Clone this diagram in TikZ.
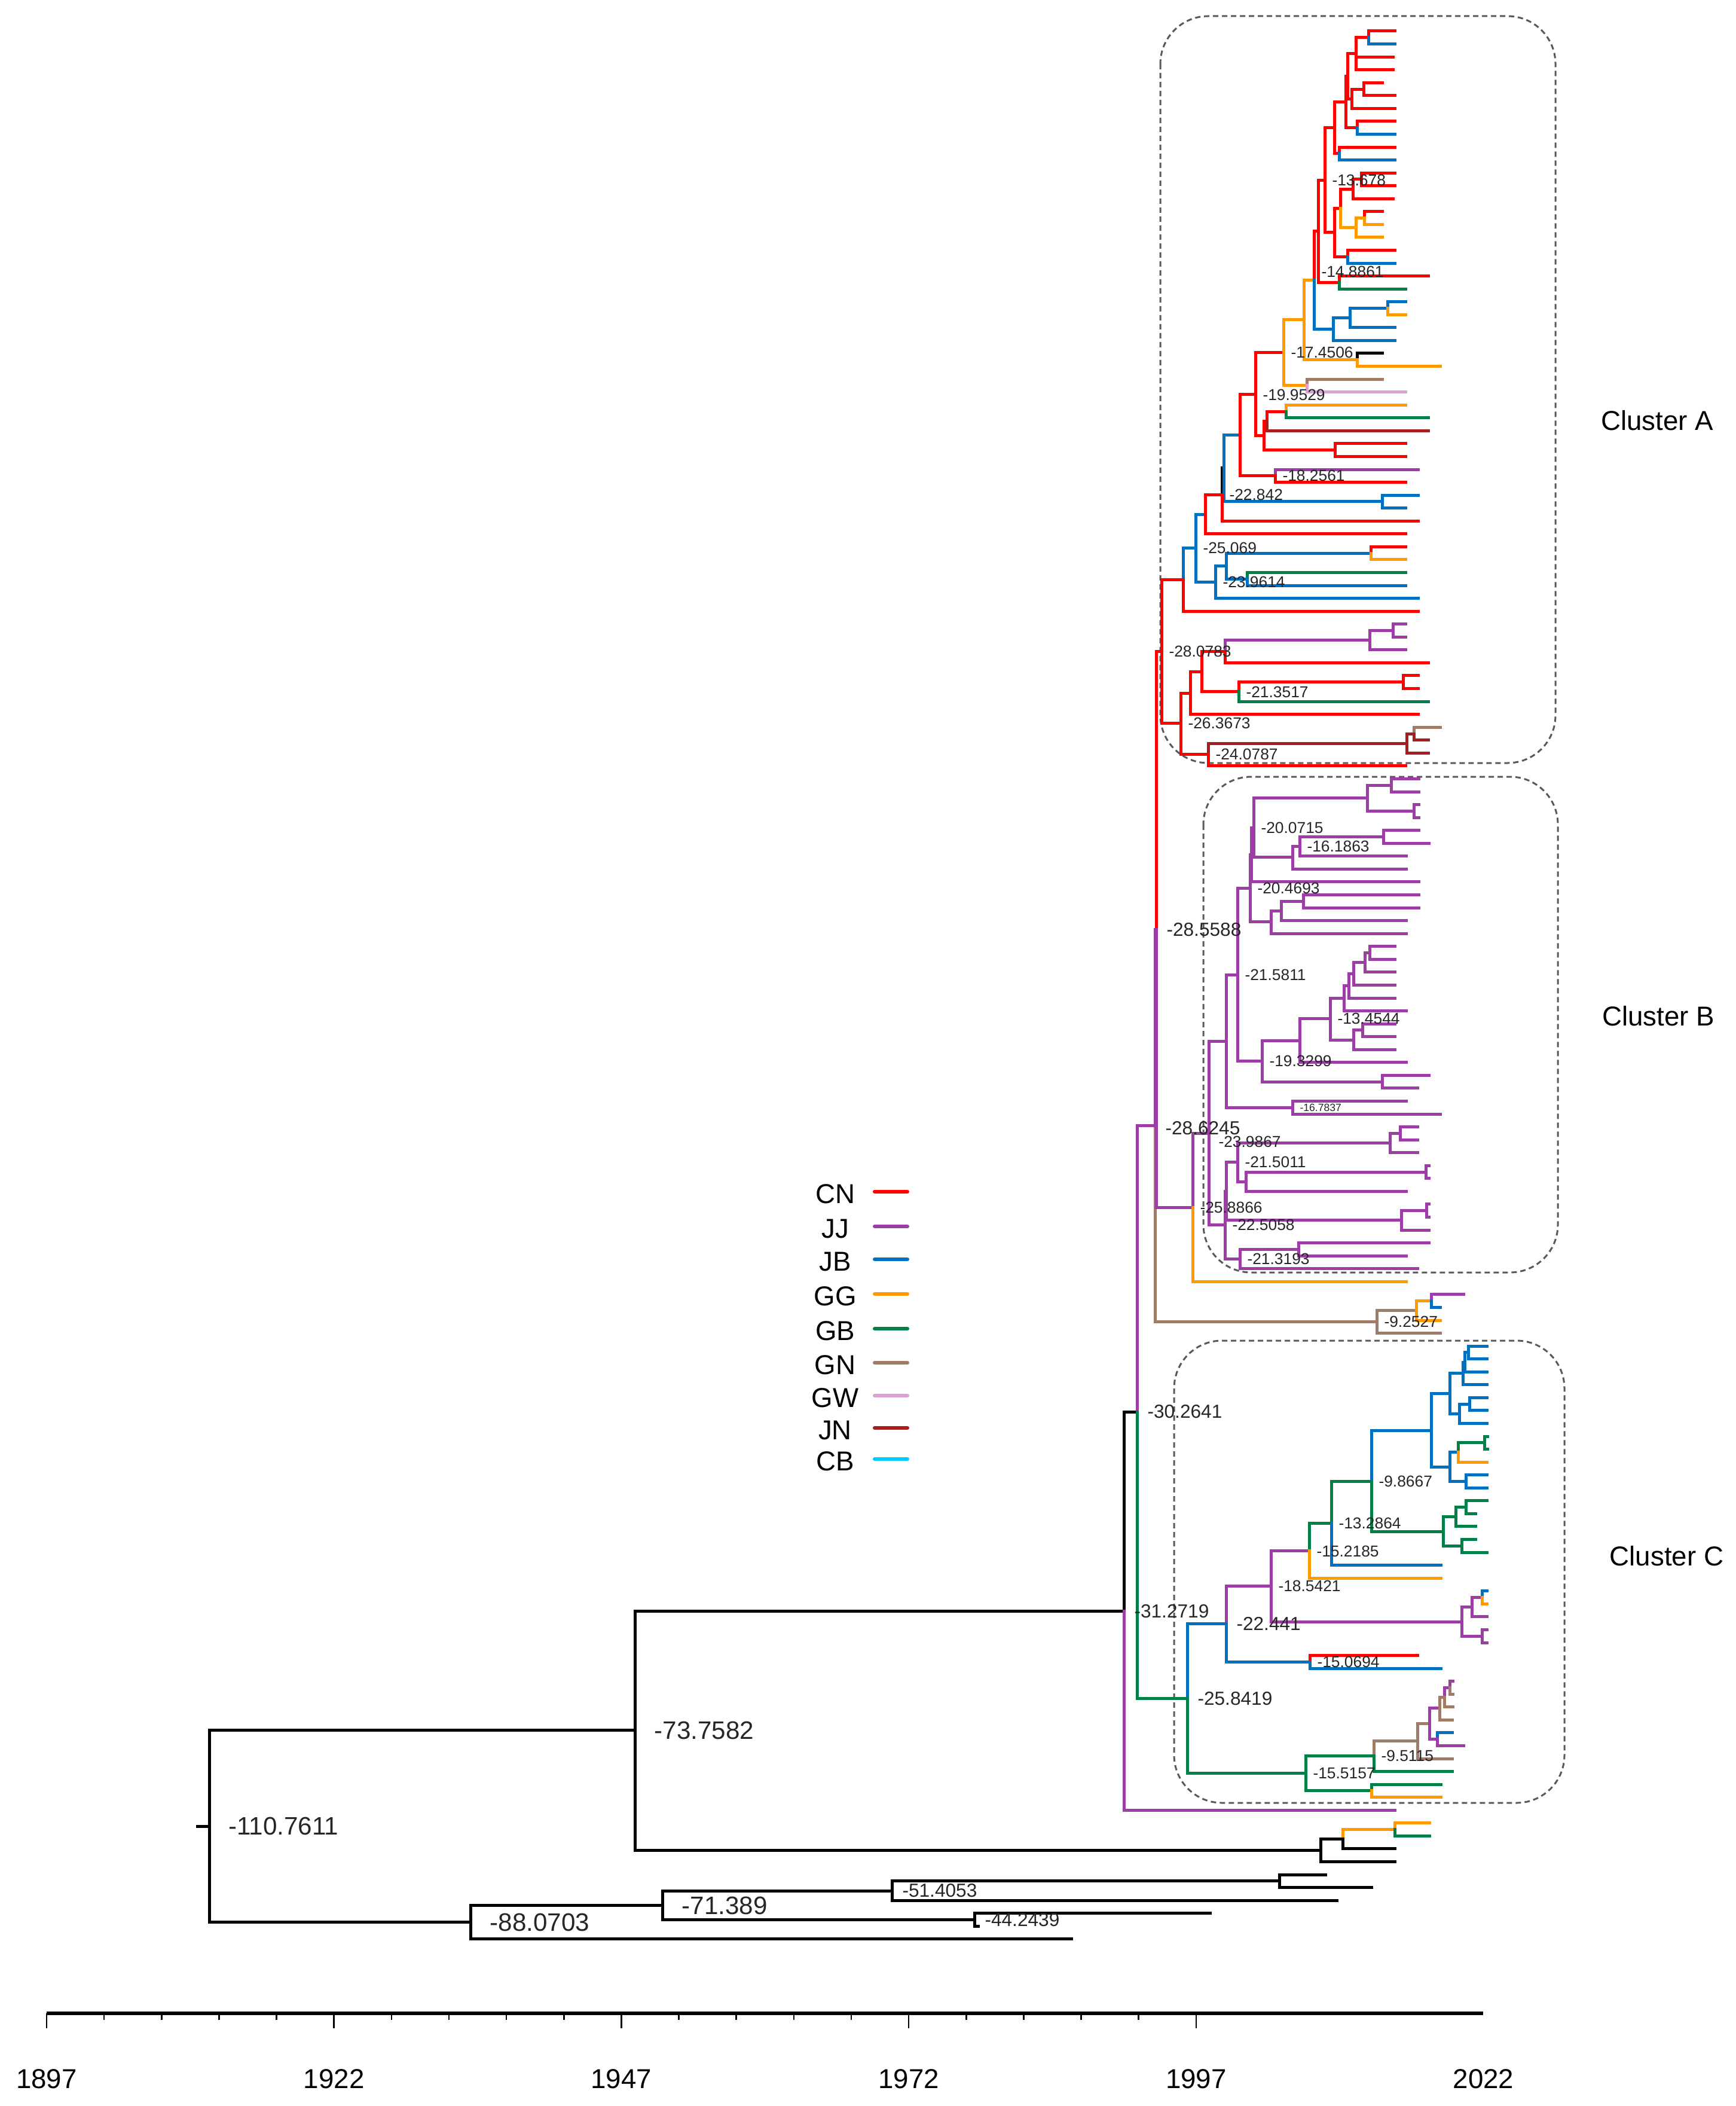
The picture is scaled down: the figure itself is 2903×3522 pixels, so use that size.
\documentclass[tikz,border=0pt]{standalone}
\usepackage{fontspec}
\setmainfont{Liberation Sans}
\definecolor{CN}{RGB}{255,0,0}
\definecolor{JJ}{RGB}{156,62,166}
\definecolor{JB}{RGB}{0,112,192}
\definecolor{GG}{RGB}{255,153,0}
\definecolor{GB}{RGB}{0,128,70}
\definecolor{GN}{RGB}{160,124,104}
\definecolor{GW}{RGB}{222,160,210}
\definecolor{JN}{RGB}{168,30,30}
\definecolor{CB}{RGB}{0,204,255}

\begin{document}
\begin{tikzpicture}[x=0.1mm, y=-0.1mm,
  lbig/.style={anchor=west, inner sep=0pt, xshift=3mm, text=black!85, font=\fontsize{12}{14}\selectfont},
  lmid/.style={anchor=west, inner sep=0pt, xshift=1.5mm, text=black!85, font=\fontsize{9}{11}\selectfont},
  lsml/.style={anchor=west, inner sep=0pt, xshift=1mm, text=black!85, font=\fontsize{7.5}{9}\selectfont},
  ltiny/.style={anchor=west, inner sep=0pt, xshift=1mm, text=black!85, font=\fontsize{5}{6}\selectfont},
  clbox/.style={draw=black!65, line width=0.3mm, dash pattern=on 0.9mm off 0.6mm, rounded corners=8mm},
  bigtxt/.style={font=\fontsize{13}{15}\selectfont},
  legline/.style={line width=0.6mm, line cap=round}]
\useasboundingbox (0,0) rectangle (2903,3522);

\draw[clbox] (1941,27) rectangle (2602,1276);
\draw[clbox] (2013,1299) rectangle (2606,2128);
\draw[clbox] (1964,2242) rectangle (2617,3015);
\node[bigtxt] (clA) at (2772,703) {Cluster A};
\node[bigtxt] (clB) at (2774,1699) {Cluster B};
\node[bigtxt] (clC) at (2788,2602) {Cluster C};

\foreach \nm/\yy in {CN/1993,JJ/2051,JB/2106,GG/2164,GB/2222,GN/2279,GW/2334,JN/2388,CB/2440}{
  \node[bigtxt] (lg\nm) at (1397,\yy+4) {\nm};
  \draw[legline,\nm] (1463,\yy) -- (1518,\yy);
}

\draw[line width=0.6mm] (78,3367) -- (2481,3367);
\foreach \k in {0,...,20}
  \draw[line width=0.25mm] ({78+96.14*\k},3367) -- ++(0,11);
\foreach \k in {0,...,4}
  \draw[line width=0.25mm] ({78+480.7*\k},3367) -- ++(0,25);
\foreach \yr [count=\i from 0] in {1897,1922,1947,1972,1997,2022}
  \node[bigtxt] (ax\yr) at ({78+480.7*\i},3477) {\yr};

\begin{scope}[y=-2.156mm, yshift=-5.2mm, line width=0.5mm, line cap=rect]
\coordinate (r0) at (350,139.25);
\coordinate (r0s) at (330,139.25);
\draw (r0s) -- (r0);
\foreach \pa/\na/\xx/\yy/\col in {
  r0/m73/1062/131.8/black, m73/m31/1880/122.55/black, m31/m30/1902/107.1/black,
  m30/s2/1932/84.9/JJ, s2/p3/2303/100.1/GN, p3/p2/2369/99.25/GN, p2/p1/2394/98.5/GG,
  p1/l98/2448/98/JJ, p1/l99/2409/99/JB, p2/l100/2409/100/GG, p3/l101/2409/101/GN,
  s2/s1/1934/69.7/JJ, s1/k1/1943/48.1/CN, s1/n39/1995/91.25/JJ,
  m30/t1/1986/129.35/GB, m31/l138/2333/138/JJ,
  m73/z3/2209/141.1/black, z3/z2/2246/140.25/black, z2/z1/2333/139.5/GG,
  z1/l139/2391/139/GG, z1/l140/2391/140/GB, z2/l141/2333/141/black, z3/l142/2333/142/black,
  r0/q88/787/146.7/black, q88/q71/1108/145.4/black, q71/q51/1492/144.25/black,
  q51/z4/2140/143.5/black, z4/l143/2217/143/black, z4/l144/2294/144/black,
  q51/l145/2236/145/black, q71/q44/1630/146.5/black, q44/l146/2024/146/black,
  q44/l147/1636/147/black, q88/l148/1792/148/black}{
  \coordinate (\na) at (\xx,\yy);
  \draw[\col] (\pa) |- (\na);
}
\foreach \pa/\na/\xx/\yy/\col in {
  k1/h6/1979/42.55/CN, h6/h5/2000/40.1/JB, h5/g4/2016/37.5/JB, g4/g3/2044/35.95/CN,
  g3/g2/2047/33.9/black, g2/f7/2074/31.35/JB, f7/f5/2100/28.2/CN, f5/e4/2147/24.95/CN,
  e4/e2/2181/22.4/GG, e2/c2/2198/19.3/GG, c2/c1/2205/15.53/CN, c1/a9/2216/11.56/CN,
  a9/a8/2232/7.5/CN, a8/a6/2251/5.5/CN, a6/a6p/2254/3.5/CN, a6p/a2/2268/1.75/CN,
  a2/a1/2289/0.5/CN, a1/l0/2333/0/CN, a1/l1/2333/1/JB, a2/l2/2330/2/CN, a2/l3/2330/3/CN,
  a6p/a4/2261/5.25/CN, a4/a3/2281/4.5/CN, a3/l4/2312/4/CN, a3/l5/2333/5/CN, a4/l6/2333/6/CN,
  a6/a5/2270/7.5/CN, a5/l7/2333/7/CN, a5/l8/2333/8/JB,
  a8/a7/2240/9.5/CN, a7/l9/2333/9/CN, a7/l10/2333/10/JB,
  a9/b7/2232/15.6/CN, b7/b5/2242/13.75/CN, b5/b2/2263/12.25/CN, b2/b1/2277/11.5/CN,
  b1/l11/2333/11/CN, b1/l12/2333/12/CN, b2/l13/2330/13/CN,
  b5/b4/2268/15.25/GG, b4/b3/2282/14.5/GG, b3/l14/2312/14/CN, b3/l15/2312/15/GG, b4/l16/2312/16/GG,
  b7/b6/2254/17.5/CN, b6/l17/2333/17/CN, b6/l18/2333/18/JB,
  c1/b8/2240/19.5/CN, b8/l19/2389/19/CN, b8/l20/2351/20/GB,
  c2/d3/2230/23.1/JB, d3/d2/2258/22.25/JB, d2/d1/2321/21.5/JB, d1/l21/2351/21/JB,
  d1/l22/2351/22/GG, d2/l23/2333/23/JB, d3/l24/2333/24/JB,
  e2/e1/2270/25.5/GG, e1/l25/2312/25/black, e1/l26/2409/26/GG,
  e4/e3/2186/27.5/GG, e3/l27/2312/27/GN, e3/l28/2351/28/GW,
  f5/f4/2114/31.4/CN, f4/f3/2119/30.25/CN, f3/f1/2151/29.5/CN, f1/l29/2351/29/GG,
  f1/l30/2389/30/GB, f3/l31/2389/31/JN, f4/f2/2233/32.5/CN, f2/l32/2351/32/CN, f2/l33/2351/33/CN,
  f7/f6/2133/34.5/CN, f6/l34/2372/34/JJ, f6/l35/2351/35/CN,
  g2/g1/2312/36.5/JB, g1/l36/2372/36/JB, g1/l37/2351/37/JB, g3/l38/2372/38/CN, g4/l39/2351/39/CN,
  h5/h4/2033/42.75/JB, h4/h3/2051/41.5/JB, h3/h1/2293/40.5/JB, h1/l40/2351/40/CN,
  h1/l41/2351/41/GG, h3/h2/2086/42.5/JB, h2/l42/2351/42/GB, h2/l43/2351/43/JB,
  h4/l44/2372/44/JB, h6/l45/2372/45/CN,
  k1/i8/1975/53.7/CN, i8/i7/1991/51.35/CN, i7/i6/2010/49.7/CN, i6/i3/2049/48.1/CN,
  i3/i2/2291/47.25/JJ, i2/i1/2330/46.5/JJ, i1/l46/2351/46/JJ, i1/l47/2351/47/JJ,
  i2/l48/2351/48/JJ, i3/l49/2389/49/CN, i6/i5/2072/51.25/CN, i5/i4/2347/50.5/CN,
  i4/l50/2372/50/CN, i4/l51/2372/51/CN, i5/l52/2389/52/GB, i7/l53/2372/53/CN,
  i8/j3/2021/56.1/CN, j3/j2/2353/55.25/JN, j2/j1/2365/54.5/JN, j1/l54/2409/54/GN,
  j1/l55/2389/55/JN, j2/l56/2389/56/JN, j3/l57/2351/57/CN}{
  \coordinate (\na) at (\xx,\yy);
  \draw[\col] (\pa) |- (\na);
}
\foreach \pa/\na/\xx/\yy/\col in {
  n39/n38/2022/85.5/JJ, n38/n26/2051/78.35/JJ, n26/n24/2070/73.2/JJ, n24/n12/2091/66.5/JJ,
  n12/n8/2093/63.9/JJ, n8/n7/2097/61.8/JJ, n7/n3/2287/59.5/JJ, n3/n1/2327/58.5/JJ,
  n1/l58/2373/58/JJ, n1/l59/2373/59/JJ, n3/n2/2365/60.5/JJ, n2/l60/2373/60/JJ, n2/l61/2373/61/JJ,
  n7/n6/2162/64.1/JJ, n6/n5/2174/63.25/JJ, n5/n4/2314/62.5/JJ, n4/l62/2373/62/JJ,
  n4/l63/2390/63/JJ, n5/l64/2352/64/JJ, n6/l65/2352/65/JJ, n8/l66/2373/66/JJ,
  n12/n11/2126/69.1/JJ, n11/n10/2143/68.25/JJ, n10/n9/2180/67.5/JJ, n9/l67/2373/67/JJ,
  n9/l68/2373/68/JJ, n10/l69/2352/69/JJ, n11/l70/2352/70/JJ,
  n24/n23/2111/79.9/JJ, n23/n21/2174/78.3/JJ, n21/n20/2225/76.6/JJ, n20/n17/2248/75/JJ,
  n17/n16/2256/74.05/JJ, n16/n15/2264/73.1/JJ, n15/n14/2283/72.25/JJ, n14/n13/2291/71.5/JJ,
  n13/l71/2333/71/JJ, n13/l72/2333/72/JJ, n14/l73/2333/73/JJ, n15/l74/2333/74/JJ,
  n16/l75/2333/75/JJ, n17/l76/2352/76/JJ, n20/n19/2264/78.25/JJ, n19/n18/2279/77.5/JJ,
  n18/l77/2333/77/JJ, n18/l78/2333/78/JJ, n19/l79/2333/79/JJ, n21/l80/2352/80/JJ,
  n23/n22/2312/81.5/JJ, n22/l81/2390/81/JJ, n22/l82/2371/82/JJ,
  n26/n25/2162/83.5/JJ, n25/l83/2352/83/JJ, n25/l84/2409/84/JJ,
  n38/n37/2049/92.6/JJ, n37/n34/2051/90/JJ, n34/n31/2070/87.75/JJ, n31/n28/2325/86.25/JJ,
  n28/n27/2342/85.5/JJ, n27/l85/2371/85/JJ, n27/l86/2371/86/JJ, n28/l87/2371/87/JJ,
  n31/n30/2084/89.25/JJ, n30/n29/2385/88.5/JJ, n29/l88/2390/88/JJ, n29/l89/2390/89/JJ,
  n30/l90/2352/90/JJ, n34/n33/2344/92.25/JJ, n33/n32/2386/91.5/JJ, n32/l91/2390/91/JJ,
  n32/l92/2390/92/JJ, n33/l93/2390/93/JJ, n37/n36/2074/95.25/JJ, n36/n35/2172/94.5/JJ,
  n35/l94/2390/94/JJ, n35/l95/2352/95/JJ, n36/l96/2371/96/JJ, n39/l97/2352/97/GG}{
  \coordinate (\na) at (\xx,\yy);
  \draw[\col] (\pa) |- (\na);
}
\foreach \pa/\na/\xx/\yy/\col in {
  t1/t2/2051/123.55/JB, t2/t3/2126/120.6/JJ, t3/t4/2190/117.9/JJ, t4/t5/2227/115.75/GB,
  t5/t6/2294/112.5/GB, t6/v1/2394/108.55/JB, v1/v2/2425/105.7/JB, v2/v3/2447/104.1/JB,
  v3/v5/2450/103.25/JB, v5/v4/2456/102.5/JB, v4/l102/2487/102/JB, v4/l103/2487/103/JB,
  v5/l104/2487/104/JB, v3/l105/2487/105/JB, v2/v6/2441/107.25/JB, v6/v7/2458/106.5/JB,
  v7/l106/2487/106/JB, v7/l107/2487/107/JB, v6/l108/2487/108/JB,
  v1/v8/2425/111.4/JB, v8/v9/2439/110.25/JB, v9/v10/2483/109.5/GB, v10/l109/2488/109/GB,
  v10/l110/2488/110/GB, v9/l111/2487/111/GG, v8/v11/2452/112.5/JB, v11/l112/2487/112/JB,
  v11/l113/2487/113/JB,
  t6/w1/2414/116.4/GB, w1/w2/2435/115.25/GB, w2/w3/2452/114.5/GB, w3/l114/2487/114/GB,
  w3/l115/2468/115/GB, w2/l116/2468/116/GB, w1/w4/2445/117.5/GB, w4/l117/2468/117/GB,
  w4/l118/2487/118/GB, t5/l119/2410/119/JB, t4/l120/2410/120/GG,
  t3/u4/2445/123.4/JJ, u4/u2/2462/122.25/JJ, u2/u1/2479/121.5/JJ, u1/l121/2487/121/JB,
  u1/l122/2487/122/GG, u2/l123/2487/123/JJ, u4/u3/2479/124.5/JJ, u3/l124/2487/124/JJ,
  u3/l125/2487/125/JJ, t2/t7/2191/126.5/JB, t7/l126/2371/126/CN, t7/l127/2410/127/JB,
  t1/t8/2184/135.15/GB, t8/t9/2298/133.8/GB, t9/x1/2371/132.65/GN, x1/x2/2391/131.3/GN,
  x2/x4/2408/130.1/JJ, x4/x6/2416/129.25/GN, x6/x5/2425/128.5/JJ, x5/l128/2430/128/JJ,
  x5/l129/2430/129/GN, x6/l130/2430/130/GN, x4/l131/2429/131/GN, x2/x3/2404/132.5/JJ,
  x3/l132/2429/132/JB, x3/l133/2448/133/JJ, x1/l134/2429/134/GN, t9/l135/2429/135/GB,
  t8/y1/2294/136.5/GB, y1/l136/2410/136/GB, y1/l137/2410/137/GG}{
  \coordinate (\na) at (\xx,\yy);
  \draw[\col] (\pa) |- (\na);
}

\foreach \na/\tx in {r0/-110.7611, m73/-73.7582, q71/-71.389, q88/-88.0703}
  \node[lbig] (lb\na) at (\na) {\tx};
\foreach \na/\tx in {q51/-51.4053, q44/-44.2439, m31/-31.2719, m30/-30.2641,
  s1/-28.5588, t1/-25.8419, t2/-22.441}
  \node[lmid] (lb\na) at (\na) {\tx};
\node[lmid, yshift=-0.4mm] (lbs2) at (s2) {-28.6245};
\foreach \na/\tx in {k1/-28.0783, h5/-25.069, h4/-23.9614, g3/-22.842, f5/-19.9529,
  f6/-18.2561, e4/-17.4506, a9/-13.678, i5/-21.3517, i8/-26.3673, j3/-24.0787,
  n7/-20.0715, n5/-16.1863, n12/-20.4693, n24/-21.5811, n20/-13.4544, n23/-19.3299,
  n31/-21.5011, n39/-25.8866, n37/-22.5058, n36/-21.3193, p3/-9.2527,
  t6/-9.8667, t5/-13.2864, t4/-15.2185, t3/-18.5421, t7/-15.0694, t9/-9.5115, t8/-15.5157}
  \node[lsml] (lb\na) at (\na) {\tx};
\node[lsml, yshift=1.4mm] (lbc2) at (c2) {-14.8861};
\node[lsml, xshift=0.4mm, yshift=-1.4mm] (lbn38) at (n38) {-23.9867};
\node[ltiny] (lbn25) at (n25) {-16.7837};
\end{scope}
\end{tikzpicture}
\end{document}
